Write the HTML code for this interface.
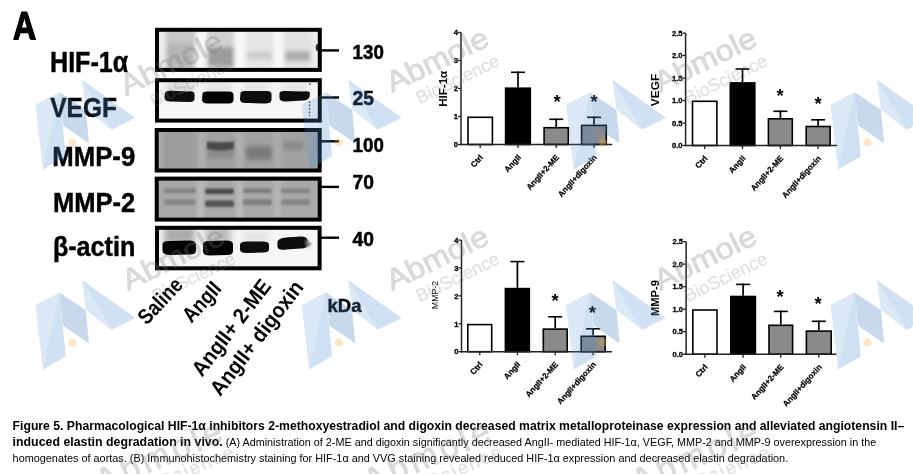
<!DOCTYPE html>
<html><head><meta charset="utf-8"><title>Figure 5</title>
<style>
html,body{margin:0;padding:0;background:#fff;width:913px;height:474px;overflow:hidden}
svg{display:block}
text{font-family:"Liberation Sans", Arial, sans-serif}
</style></head><body>
<svg width="913" height="474" viewBox="0 0 913 474">
<defs>
<filter id="b1" x="-50%" y="-50%" width="200%" height="200%"><feGaussianBlur stdDeviation="1"/></filter>
<filter id="b2" x="-50%" y="-50%" width="200%" height="200%"><feGaussianBlur stdDeviation="2"/></filter>
<filter id="b3" x="-50%" y="-50%" width="200%" height="200%"><feGaussianBlur stdDeviation="3.5"/></filter>
<filter id="b05" x="-50%" y="-50%" width="200%" height="200%"><feGaussianBlur stdDeviation="0.6"/></filter>
</defs>
<rect width="913" height="474" fill="#fff"/>

<defs>
<clipPath id="chif"><rect x="158" y="30.8" width="160.8" height="38.10000000000001"/></clipPath>
<clipPath id="cvegf"><rect x="158" y="81.2" width="160.8" height="38.39999999999999"/></clipPath>
<clipPath id="cmmp9"><rect x="157.7" y="131" width="161.0" height="38.5"/></clipPath>
<clipPath id="cmmp2"><rect x="157.7" y="179.6" width="161.0" height="39.0"/></clipPath>
<clipPath id="cact"><rect x="158" y="228.8" width="160.60000000000002" height="38.5"/></clipPath>
</defs>
<g clip-path="url(#chif)">
<rect x="155" y="27.8" width="166.8" height="44.10000000000001" fill="#ececec"/>
<g filter="url(#b2)">
<rect x="166" y="28" width="29" height="44" fill="#c6c6c6"/>
<rect x="167" y="44" width="27" height="22" fill="#b4b4b4"/>
<rect x="207" y="28" width="27" height="44" fill="#d2d2d2"/>
<rect x="208" y="47" width="26" height="19" fill="#9c9c9c"/>
<rect x="246" y="28" width="27" height="44" fill="#e6e6e6"/>
<rect x="247" y="52" width="25" height="7" fill="#cacaca"/>
<rect x="284" y="28" width="27" height="44" fill="#e2e2e2"/>
<rect x="285" y="51" width="25" height="10" fill="#acacac"/>
<rect x="196" y="28" width="10" height="44" fill="#f6f6f6"/>
<rect x="235" y="28" width="10" height="44" fill="#f8f8f8"/>
<rect x="274" y="28" width="9" height="44" fill="#f8f8f8"/>
</g>
<ellipse cx="317.5" cy="47.5" rx="1.8" ry="3.5" fill="#333" filter="url(#b05)"/>
</g>
<rect x="157.0" y="29.8" width="162.8" height="40.1" fill="none" stroke="#000" stroke-width="4"/>
<g clip-path="url(#cvegf)">
<rect x="155" y="78.2" width="166.8" height="44.39999999999999" fill="#f6f6f6"/>
<g filter="url(#b3)">
<rect x="166" y="82" width="28" height="12" fill="#d8d8d8"/>
<rect x="205" y="82" width="27" height="12" fill="#e2e2e2"/>
<rect x="243" y="82" width="27" height="12" fill="#e4e4e4"/>
<rect x="282" y="82" width="27" height="12" fill="#e4e4e4"/>
</g>
<g filter="url(#b05)">
<path d="M165 93 Q166 90.5 172 90.8 L188 91.5 Q194 90.5 194.5 94 L194.5 99 Q194 102.5 189 102 L172 101.5 Q165 102 164.5 98 Z" fill="#080808"/>
<path d="M202.5 93.5 Q203 91 209 91.5 L228 91.5 Q233.5 91 233.5 95 L233.5 100 Q233 104 228 103.5 L209 103.5 Q202.5 104 202 100 Z" fill="#050505"/>
<path d="M240.5 93 Q241 90.5 247 91 L265 91 Q271.5 90.5 271.5 94 L271.5 100 Q271 103.5 265 103.5 L247 103 Q240.5 103.5 240 99.5 Z" fill="#070707"/>
<path d="M279.5 93 Q280 90.5 286 91 L303 91.5 Q309.5 90.5 310 93 L309.5 97 Q308 100.5 303 100.5 L286 101.5 Q279.5 101.5 279.5 98 Z" fill="#0c0c0c"/>
</g>
<line x1="309.5" y1="101" x2="309.5" y2="116" stroke="#444" stroke-width="1.3" stroke-dasharray="2 1.5"/>
<circle cx="310" cy="84" r="0.9" fill="#666"/>
</g>
<rect x="157.0" y="80.2" width="162.8" height="40.4" fill="none" stroke="#000" stroke-width="4"/>
<g clip-path="url(#cmmp9)">
<rect x="154.7" y="128" width="167.0" height="44.5" fill="#a2a2a2"/>
<g filter="url(#b2)">
<rect x="155" y="128" width="10" height="44" fill="#aaaaaa"/>
<rect x="163" y="130" width="34" height="40" fill="#9c9c9c"/>
<rect x="198" y="130" width="7" height="40" fill="#b0b0b0"/>
<rect x="236" y="130" width="7" height="40" fill="#b0b0b0"/>
<rect x="274" y="130" width="7" height="40" fill="#acacac"/>
<rect x="207" y="148" width="27" height="10" fill="#8a8a8a"/>
<rect x="246" y="146" width="26" height="14" rx="3" fill="#7a7a7a"/>
<rect x="283" y="141.5" width="21" height="8" rx="3" fill="#888"/>
</g>
<g filter="url(#b1)">
<path d="M207 141.5 Q220 143 234 141.5 L234 149 Q220 152 207 149 Z" fill="#4a4a4a"/>
</g>
</g>
<rect x="156.7" y="130.0" width="163.0" height="40.5" fill="none" stroke="#000" stroke-width="4"/>
<g clip-path="url(#cmmp2)">
<rect x="154.7" y="176.6" width="167.0" height="45.0" fill="#a8a8a8"/>
<g filter="url(#b2)">
<rect x="197" y="178" width="7" height="43" fill="#bababa"/>
<rect x="236" y="178" width="7" height="43" fill="#bababa"/>
<rect x="274" y="178" width="7" height="43" fill="#b6b6b6"/>
</g>
<g filter="url(#b1)">
<rect x="164" y="188.5" width="32" height="4.5" rx="2" fill="#808080"/>
<rect x="164" y="199.5" width="32" height="5.5" rx="2" fill="#868686"/>
<rect x="205" y="188.5" width="29" height="5.5" rx="2" fill="#4c4c4c"/>
<rect x="205" y="200.5" width="29" height="6.5" rx="2" fill="#555555"/>
<rect x="243" y="188.5" width="29" height="4.5" rx="2" fill="#7c7c7c"/>
<rect x="243" y="199.5" width="29" height="5.5" rx="2" fill="#7e7e7e"/>
<rect x="281" y="188.5" width="29" height="4.5" rx="2" fill="#828282"/>
<rect x="281" y="199.5" width="29" height="5.5" rx="2" fill="#848484"/>
</g>
</g>
<rect x="156.7" y="178.6" width="163.0" height="41.0" fill="none" stroke="#000" stroke-width="4"/>
<g clip-path="url(#cact)">
<rect x="155" y="225.8" width="166.60000000000002" height="44.5" fill="#f6f6f6"/>
<g filter="url(#b3)">
<rect x="164" y="226" width="31" height="18" fill="#aaaaaa"/>
<rect x="205" y="226" width="26" height="18" fill="#bcbcbc"/>
<rect x="244" y="232" width="24" height="10" fill="#e0e0e0"/>
</g>
<g filter="url(#b05)">
<path d="M162.5 244 Q163 240.5 170 241 L189 240.5 Q195.5 240.5 196 244.5 L196 251 Q195.5 255 189 254.5 L170 255 Q163 255 162.5 251 Z" fill="#050505"/>
<path d="M203 244 Q203.5 240.5 210 241 L226 240.5 Q233 240.5 233 244.5 L233 251.5 Q232.5 255.5 226 255 L210 255.5 Q203 255.5 203 251.5 Z" fill="#050505"/>
<path d="M240 244.5 Q240.5 241.5 247 241.5 L262 241.5 Q269 241.5 269 244.5 L269 249.5 Q268.5 253 262 252.5 L247 253 Q240 253 240 249.5 Z" fill="#080808"/>
<path d="M277.5 241.5 Q279 238 286 237.5 L301 236.5 Q307 236.5 307.5 240 L308 245 Q306 249 300 248.5 L286 249.5 Q278 250.5 277.5 247 Z" fill="#080808"/>
</g>
<path d="M305 239 L312 244 L306 248 Z" fill="#777" filter="url(#b1)"/>
</g>
<rect x="157.0" y="227.8" width="162.6" height="40.5" fill="none" stroke="#000" stroke-width="4"/>
<rect x="321" y="49.2" width="18" height="2.4" fill="#000"/>
<rect x="321" y="96.3" width="18" height="2.4" fill="#000"/>
<rect x="321" y="140.1" width="18" height="2.4" fill="#000"/>
<rect x="321" y="185.7" width="18" height="2.4" fill="#000"/>
<rect x="321" y="236.5" width="18" height="2.4" fill="#000"/>
<text x="352.6" y="58.5" font-size="19.6" font-weight="bold" text-anchor="start" fill="#000" stroke="#000" stroke-width="0.5" textLength="31.2" lengthAdjust="spacingAndGlyphs">130</text>
<text x="352.6" y="104.8" font-size="19.6" font-weight="bold" text-anchor="start" fill="#000" stroke="#000" stroke-width="0.5" textLength="21.4" lengthAdjust="spacingAndGlyphs">25</text>
<text x="352.6" y="152.4" font-size="19.6" font-weight="bold" text-anchor="start" fill="#000" stroke="#000" stroke-width="0.5" textLength="31.2" lengthAdjust="spacingAndGlyphs">100</text>
<text x="352.6" y="189.3" font-size="19.6" font-weight="bold" text-anchor="start" fill="#000" stroke="#000" stroke-width="0.5" textLength="21.4" lengthAdjust="spacingAndGlyphs">70</text>
<text x="352.6" y="246.3" font-size="19.6" font-weight="bold" text-anchor="start" fill="#000" stroke="#000" stroke-width="0.5" textLength="21.4" lengthAdjust="spacingAndGlyphs">40</text>
<text x="327.5" y="312.1" font-size="18.5" font-weight="bold" text-anchor="start" fill="#000" stroke="#000" stroke-width="0.4">kDa</text>
<text x="12.4" y="39.6" font-size="38" font-weight="bold" text-anchor="start" fill="#000" textLength="24.6" lengthAdjust="spacingAndGlyphs">A</text>
<text x="13.0" y="39.3" font-size="38.5" font-weight="bold" text-anchor="start" fill="#000" textLength="22.4" lengthAdjust="spacingAndGlyphs" stroke="#000" stroke-width="0.9">A</text>
<text x="50" y="72" font-size="29" font-weight="bold" text-anchor="start" fill="#000" textLength="78.2" lengthAdjust="spacingAndGlyphs" stroke="#000" stroke-width="0.45">HIF-1α</text>
<text x="50.3" y="116.6" font-size="28" font-weight="bold" text-anchor="start" fill="#000" textLength="66.6" lengthAdjust="spacingAndGlyphs" stroke="#000" stroke-width="0.45">VEGF</text>
<text x="52.3" y="165.5" font-size="27.5" font-weight="bold" text-anchor="start" fill="#000" textLength="82.9" lengthAdjust="spacingAndGlyphs" stroke="#000" stroke-width="0.45">MMP-9</text>
<text x="52.9" y="212" font-size="28" font-weight="bold" text-anchor="start" fill="#000" textLength="82.3" lengthAdjust="spacingAndGlyphs" stroke="#000" stroke-width="0.45">MMP-2</text>
<text x="52.9" y="255.6" font-size="28" font-weight="bold" text-anchor="start" fill="#000" textLength="82.4" lengthAdjust="spacingAndGlyphs" stroke="#000" stroke-width="0.45">β-actin</text>
<text transform="translate(184,286) rotate(-47) scale(0.86,1)" font-size="21.5" font-weight="bold" text-anchor="end" >Saline</text>
<text transform="translate(222.5,289.5) rotate(-48) scale(0.86,1)" font-size="21.5" font-weight="bold" text-anchor="end" >AngII</text>
<text transform="translate(272,286.5) rotate(-52.5) scale(0.93,1)" font-size="21.5" font-weight="bold" text-anchor="end" >AngII+ 2-ME</text>
<text transform="translate(304.5,287.5) rotate(-52.5) scale(0.93,1)" font-size="21.5" font-weight="bold" text-anchor="end" >AngII+ digoxin</text>
<rect x="468.0" y="117.3" width="24.4" height="27.2" fill="#fff" stroke="#000" stroke-width="1.6"/>
<line x1="518.0" y1="87.4" x2="518.0" y2="71.5" stroke="#000" stroke-width="1.7"/>
<line x1="511.0" y1="72.3" x2="525.0" y2="72.3" stroke="#000" stroke-width="1.6"/>
<rect x="505.6" y="88.2" width="24.7" height="56.3" fill="#000" stroke="#000" stroke-width="1.6"/>
<line x1="556.2" y1="126.9" x2="556.2" y2="118.5" stroke="#000" stroke-width="1.7"/>
<line x1="549.2" y1="119.3" x2="563.2" y2="119.3" stroke="#000" stroke-width="1.6"/>
<rect x="544.1" y="127.7" width="24.2" height="16.8" fill="#8a8a8a" stroke="#000" stroke-width="1.6"/>
<line x1="594.0" y1="124.6" x2="594.0" y2="116.5" stroke="#000" stroke-width="1.7"/>
<line x1="587.0" y1="117.3" x2="601.0" y2="117.3" stroke="#000" stroke-width="1.6"/>
<rect x="581.6" y="125.4" width="24.7" height="19.1" fill="#8a8a8a" stroke="#000" stroke-width="1.6"/>
<line x1="461" y1="32.5" x2="461" y2="145.2" stroke="#222" stroke-width="1.5"/>
<line x1="460.25" y1="144.5" x2="612.2" y2="144.5" stroke="#222" stroke-width="1.5"/>
<line x1="458" y1="144.5" x2="461" y2="144.5" stroke="#222" stroke-width="1.3"/>
<text x="458" y="147.2" font-size="7.6" font-weight="bold" text-anchor="end" stroke="#000" stroke-width="0.3">0</text>
<line x1="458" y1="116.5" x2="461" y2="116.5" stroke="#222" stroke-width="1.3"/>
<text x="458" y="119.2" font-size="7.6" font-weight="bold" text-anchor="end" stroke="#000" stroke-width="0.3">1</text>
<line x1="458" y1="88.5" x2="461" y2="88.5" stroke="#222" stroke-width="1.3"/>
<text x="458" y="91.2" font-size="7.6" font-weight="bold" text-anchor="end" stroke="#000" stroke-width="0.3">2</text>
<line x1="458" y1="60.5" x2="461" y2="60.5" stroke="#222" stroke-width="1.3"/>
<text x="458" y="63.2" font-size="7.6" font-weight="bold" text-anchor="end" stroke="#000" stroke-width="0.3">3</text>
<line x1="458" y1="32.5" x2="461" y2="32.5" stroke="#222" stroke-width="1.3"/>
<text x="458" y="35.2" font-size="7.6" font-weight="bold" text-anchor="end" stroke="#000" stroke-width="0.3">4</text>
<line x1="480.2" y1="144.5" x2="480.2" y2="148.0" stroke="#222" stroke-width="1.3"/>
<text transform="translate(483.6,157.7) rotate(-48)" font-size="8.1" font-weight="bold" text-anchor="end" stroke="#000" stroke-width="0.25">Ctrl</text>
<line x1="518.0" y1="144.5" x2="518.0" y2="148.0" stroke="#222" stroke-width="1.3"/>
<text transform="translate(521.4,157.7) rotate(-48)" font-size="8.1" font-weight="bold" text-anchor="end" stroke="#000" stroke-width="0.25">AngII</text>
<line x1="556.2" y1="144.5" x2="556.2" y2="148.0" stroke="#222" stroke-width="1.3"/>
<text transform="translate(559.6,157.7) rotate(-48)" font-size="8.1" font-weight="bold" text-anchor="end" stroke="#000" stroke-width="0.25">AngII+2-ME</text>
<line x1="594.0" y1="144.5" x2="594.0" y2="148.0" stroke="#222" stroke-width="1.3"/>
<text transform="translate(597.4,157.7) rotate(-48)" font-size="8.1" font-weight="bold" text-anchor="end" stroke="#000" stroke-width="0.25">AngII+digoxin</text>
<text x="557" y="107.8" font-size="18.5" font-weight="bold" text-anchor="middle">*</text>
<text x="594" y="107.8" font-size="18.5" font-weight="bold" text-anchor="middle">*</text>
<text transform="translate(447.4,88.8) rotate(-90)" font-size="10" font-weight="bold" text-anchor="middle" textLength="36" lengthAdjust="spacingAndGlyphs">HIF-1α</text>
<rect x="692.5" y="101.3" width="24.4" height="44.2" fill="#fff" stroke="#000" stroke-width="1.6"/>
<line x1="742.5" y1="82.1" x2="742.5" y2="68.2" stroke="#000" stroke-width="1.7"/>
<line x1="735.5" y1="69.0" x2="749.5" y2="69.0" stroke="#000" stroke-width="1.6"/>
<rect x="730.3" y="82.9" width="24.5" height="62.6" fill="#000" stroke="#000" stroke-width="1.6"/>
<line x1="780.4" y1="118.0" x2="780.4" y2="110.5" stroke="#000" stroke-width="1.7"/>
<line x1="773.4" y1="111.3" x2="787.4" y2="111.3" stroke="#000" stroke-width="1.6"/>
<rect x="768.4" y="118.8" width="23.9" height="26.7" fill="#8a8a8a" stroke="#000" stroke-width="1.6"/>
<line x1="818.1" y1="125.7" x2="818.1" y2="119.0" stroke="#000" stroke-width="1.7"/>
<line x1="811.1" y1="119.8" x2="825.1" y2="119.8" stroke="#000" stroke-width="1.6"/>
<rect x="806.2" y="126.5" width="23.9" height="19.0" fill="#8a8a8a" stroke="#000" stroke-width="1.6"/>
<line x1="685.6" y1="33.0" x2="685.6" y2="146.2" stroke="#222" stroke-width="1.5"/>
<line x1="684.85" y1="145.5" x2="837" y2="145.5" stroke="#222" stroke-width="1.5"/>
<line x1="682.6" y1="145.5" x2="685.6" y2="145.5" stroke="#222" stroke-width="1.3"/>
<text x="682.6" y="148.2" font-size="7.6" font-weight="bold" text-anchor="end" stroke="#000" stroke-width="0.3">0.0</text>
<line x1="682.6" y1="123.0" x2="685.6" y2="123.0" stroke="#222" stroke-width="1.3"/>
<text x="682.6" y="125.7" font-size="7.6" font-weight="bold" text-anchor="end" stroke="#000" stroke-width="0.3">0.5</text>
<line x1="682.6" y1="100.5" x2="685.6" y2="100.5" stroke="#222" stroke-width="1.3"/>
<text x="682.6" y="103.2" font-size="7.6" font-weight="bold" text-anchor="end" stroke="#000" stroke-width="0.3">1.0</text>
<line x1="682.6" y1="78.0" x2="685.6" y2="78.0" stroke="#222" stroke-width="1.3"/>
<text x="682.6" y="80.7" font-size="7.6" font-weight="bold" text-anchor="end" stroke="#000" stroke-width="0.3">1.5</text>
<line x1="682.6" y1="55.5" x2="685.6" y2="55.5" stroke="#222" stroke-width="1.3"/>
<text x="682.6" y="58.2" font-size="7.6" font-weight="bold" text-anchor="end" stroke="#000" stroke-width="0.3">2.0</text>
<line x1="682.6" y1="33.0" x2="685.6" y2="33.0" stroke="#222" stroke-width="1.3"/>
<text x="682.6" y="35.7" font-size="7.6" font-weight="bold" text-anchor="end" stroke="#000" stroke-width="0.3">2.5</text>
<line x1="704.7" y1="145.5" x2="704.7" y2="149.0" stroke="#222" stroke-width="1.3"/>
<text transform="translate(708.1,158.7) rotate(-48)" font-size="8.1" font-weight="bold" text-anchor="end" stroke="#000" stroke-width="0.25">Ctrl</text>
<line x1="742.5" y1="145.5" x2="742.5" y2="149.0" stroke="#222" stroke-width="1.3"/>
<text transform="translate(745.9,158.7) rotate(-48)" font-size="8.1" font-weight="bold" text-anchor="end" stroke="#000" stroke-width="0.25">AngII</text>
<line x1="780.4" y1="145.5" x2="780.4" y2="149.0" stroke="#222" stroke-width="1.3"/>
<text transform="translate(783.8,158.7) rotate(-48)" font-size="8.1" font-weight="bold" text-anchor="end" stroke="#000" stroke-width="0.25">AngII+2-ME</text>
<line x1="818.1" y1="145.5" x2="818.1" y2="149.0" stroke="#222" stroke-width="1.3"/>
<text transform="translate(821.5,158.7) rotate(-48)" font-size="8.1" font-weight="bold" text-anchor="end" stroke="#000" stroke-width="0.25">AngII+digoxin</text>
<text x="780" y="102.3" font-size="18.5" font-weight="bold" text-anchor="middle">*</text>
<text x="818" y="110.3" font-size="18.5" font-weight="bold" text-anchor="middle">*</text>
<text transform="translate(659.2,90) rotate(-90)" font-size="11.5" font-weight="bold" text-anchor="middle" textLength="32.3" lengthAdjust="spacingAndGlyphs">VEGF</text>
<rect x="467.8" y="324.6" width="23.9" height="27.1" fill="#fff" stroke="#000" stroke-width="1.6"/>
<line x1="517.4" y1="287.8" x2="517.4" y2="260.8" stroke="#000" stroke-width="1.7"/>
<line x1="510.4" y1="261.6" x2="524.4" y2="261.6" stroke="#000" stroke-width="1.6"/>
<rect x="505.4" y="288.6" width="23.9" height="63.1" fill="#000" stroke="#000" stroke-width="1.6"/>
<line x1="555.2" y1="328.3" x2="555.2" y2="316.0" stroke="#000" stroke-width="1.7"/>
<line x1="548.2" y1="316.8" x2="562.2" y2="316.8" stroke="#000" stroke-width="1.6"/>
<rect x="543.3" y="329.1" width="23.9" height="22.6" fill="#8a8a8a" stroke="#000" stroke-width="1.6"/>
<line x1="593.1" y1="335.5" x2="593.1" y2="328.0" stroke="#000" stroke-width="1.7"/>
<line x1="586.1" y1="328.8" x2="600.1" y2="328.8" stroke="#000" stroke-width="1.6"/>
<rect x="581.2" y="336.3" width="23.9" height="15.4" fill="#8a8a8a" stroke="#000" stroke-width="1.6"/>
<line x1="461.5" y1="240.1" x2="461.5" y2="352.4" stroke="#222" stroke-width="1.5"/>
<line x1="460.75" y1="351.7" x2="612" y2="351.7" stroke="#222" stroke-width="1.5"/>
<line x1="458.5" y1="351.7" x2="461.5" y2="351.7" stroke="#222" stroke-width="1.3"/>
<text x="458.5" y="354.4" font-size="7.6" font-weight="bold" text-anchor="end" stroke="#000" stroke-width="0.3">0</text>
<line x1="458.5" y1="323.8" x2="461.5" y2="323.8" stroke="#222" stroke-width="1.3"/>
<text x="458.5" y="326.5" font-size="7.6" font-weight="bold" text-anchor="end" stroke="#000" stroke-width="0.3">1</text>
<line x1="458.5" y1="295.9" x2="461.5" y2="295.9" stroke="#222" stroke-width="1.3"/>
<text x="458.5" y="298.6" font-size="7.6" font-weight="bold" text-anchor="end" stroke="#000" stroke-width="0.3">2</text>
<line x1="458.5" y1="268.0" x2="461.5" y2="268.0" stroke="#222" stroke-width="1.3"/>
<text x="458.5" y="270.7" font-size="7.6" font-weight="bold" text-anchor="end" stroke="#000" stroke-width="0.3">3</text>
<line x1="458.5" y1="240.1" x2="461.5" y2="240.1" stroke="#222" stroke-width="1.3"/>
<text x="458.5" y="242.8" font-size="7.6" font-weight="bold" text-anchor="end" stroke="#000" stroke-width="0.3">4</text>
<line x1="479.8" y1="351.7" x2="479.8" y2="355.2" stroke="#222" stroke-width="1.3"/>
<text transform="translate(483.1,364.9) rotate(-48)" font-size="8.1" font-weight="bold" text-anchor="end" stroke="#000" stroke-width="0.25">Ctrl</text>
<line x1="517.4" y1="351.7" x2="517.4" y2="355.2" stroke="#222" stroke-width="1.3"/>
<text transform="translate(520.8,364.9) rotate(-48)" font-size="8.1" font-weight="bold" text-anchor="end" stroke="#000" stroke-width="0.25">AngII</text>
<line x1="555.2" y1="351.7" x2="555.2" y2="355.2" stroke="#222" stroke-width="1.3"/>
<text transform="translate(558.6,364.9) rotate(-48)" font-size="8.1" font-weight="bold" text-anchor="end" stroke="#000" stroke-width="0.25">AngII+2-ME</text>
<line x1="593.1" y1="351.7" x2="593.1" y2="355.2" stroke="#222" stroke-width="1.3"/>
<text transform="translate(596.5,364.9) rotate(-48)" font-size="8.1" font-weight="bold" text-anchor="end" stroke="#000" stroke-width="0.25">AngII+digoxin</text>
<text x="555" y="306.8" font-size="18.5" font-weight="bold" text-anchor="middle">*</text>
<text x="592.4" y="319.3" font-size="18.5" font-weight="bold" text-anchor="middle">*</text>
<text transform="translate(438,295) rotate(-90)" font-size="8.6" font-weight="normal" text-anchor="middle" textLength="28.4" lengthAdjust="spacingAndGlyphs">MMP-2</text>
<rect x="692.8" y="310.0" width="24.2" height="44.2" fill="#fff" stroke="#000" stroke-width="1.6"/>
<line x1="743.1" y1="295.7" x2="743.1" y2="283.6" stroke="#000" stroke-width="1.7"/>
<line x1="736.1" y1="284.4" x2="750.1" y2="284.4" stroke="#000" stroke-width="1.6"/>
<rect x="730.8" y="296.5" width="24.6" height="57.7" fill="#000" stroke="#000" stroke-width="1.6"/>
<line x1="780.8" y1="324.5" x2="780.8" y2="310.6" stroke="#000" stroke-width="1.7"/>
<line x1="773.8" y1="311.4" x2="787.8" y2="311.4" stroke="#000" stroke-width="1.6"/>
<rect x="769.0" y="325.3" width="23.6" height="28.9" fill="#8a8a8a" stroke="#000" stroke-width="1.6"/>
<line x1="818.8" y1="330.3" x2="818.8" y2="320.5" stroke="#000" stroke-width="1.7"/>
<line x1="811.8" y1="321.3" x2="825.8" y2="321.3" stroke="#000" stroke-width="1.6"/>
<rect x="806.4" y="331.1" width="24.8" height="23.1" fill="#8a8a8a" stroke="#000" stroke-width="1.6"/>
<line x1="686.1" y1="241.7" x2="686.1" y2="354.9" stroke="#222" stroke-width="1.5"/>
<line x1="685.35" y1="354.2" x2="836.4" y2="354.2" stroke="#222" stroke-width="1.5"/>
<line x1="683.1" y1="354.2" x2="686.1" y2="354.2" stroke="#222" stroke-width="1.3"/>
<text x="683.1" y="356.9" font-size="7.6" font-weight="bold" text-anchor="end" stroke="#000" stroke-width="0.3">0.0</text>
<line x1="683.1" y1="331.7" x2="686.1" y2="331.7" stroke="#222" stroke-width="1.3"/>
<text x="683.1" y="334.4" font-size="7.6" font-weight="bold" text-anchor="end" stroke="#000" stroke-width="0.3">0.5</text>
<line x1="683.1" y1="309.2" x2="686.1" y2="309.2" stroke="#222" stroke-width="1.3"/>
<text x="683.1" y="311.9" font-size="7.6" font-weight="bold" text-anchor="end" stroke="#000" stroke-width="0.3">1.0</text>
<line x1="683.1" y1="286.7" x2="686.1" y2="286.7" stroke="#222" stroke-width="1.3"/>
<text x="683.1" y="289.4" font-size="7.6" font-weight="bold" text-anchor="end" stroke="#000" stroke-width="0.3">1.5</text>
<line x1="683.1" y1="264.2" x2="686.1" y2="264.2" stroke="#222" stroke-width="1.3"/>
<text x="683.1" y="266.9" font-size="7.6" font-weight="bold" text-anchor="end" stroke="#000" stroke-width="0.3">2.0</text>
<line x1="683.1" y1="241.7" x2="686.1" y2="241.7" stroke="#222" stroke-width="1.3"/>
<text x="683.1" y="244.4" font-size="7.6" font-weight="bold" text-anchor="end" stroke="#000" stroke-width="0.3">2.5</text>
<line x1="704.9" y1="354.2" x2="704.9" y2="357.7" stroke="#222" stroke-width="1.3"/>
<text transform="translate(708.3,367.4) rotate(-48)" font-size="8.1" font-weight="bold" text-anchor="end" stroke="#000" stroke-width="0.25">Ctrl</text>
<line x1="743.1" y1="354.2" x2="743.1" y2="357.7" stroke="#222" stroke-width="1.3"/>
<text transform="translate(746.5,367.4) rotate(-48)" font-size="8.1" font-weight="bold" text-anchor="end" stroke="#000" stroke-width="0.25">AngII</text>
<line x1="780.8" y1="354.2" x2="780.8" y2="357.7" stroke="#222" stroke-width="1.3"/>
<text transform="translate(784.2,367.4) rotate(-48)" font-size="8.1" font-weight="bold" text-anchor="end" stroke="#000" stroke-width="0.25">AngII+2-ME</text>
<line x1="818.8" y1="354.2" x2="818.8" y2="357.7" stroke="#222" stroke-width="1.3"/>
<text transform="translate(822.2,367.4) rotate(-48)" font-size="8.1" font-weight="bold" text-anchor="end" stroke="#000" stroke-width="0.25">AngII+digoxin</text>
<text x="780" y="303.3" font-size="18.5" font-weight="bold" text-anchor="middle">*</text>
<text x="818" y="309.8" font-size="18.5" font-weight="bold" text-anchor="middle">*</text>
<text transform="translate(658.9,298) rotate(-90)" font-size="11" font-weight="bold" text-anchor="middle" textLength="36" lengthAdjust="spacingAndGlyphs">MMP-9</text>
<text x="12.6" y="429.8" font-size="12.6" font-weight="bold" textLength="891.6" lengthAdjust="spacingAndGlyphs">Figure 5. Pharmacological HIF-1α inhibitors 2-methoxyestradiol and digoxin decreased matrix metalloproteinase expression and alleviated angiotensin II–</text>
<text x="12.6" y="446.2" font-size="11" textLength="863.6" lengthAdjust="spacingAndGlyphs"><tspan font-weight="bold" font-size="12.6">induced elastin degradation in vivo.</tspan> (A) Administration of 2-ME and digoxin significantly decreased AngII- mediated HIF-1α, VEGF, MMP-2 and MMP-9 overexpression in the</text>
<text x="12.6" y="461.8" font-size="11" textLength="775.6" lengthAdjust="spacingAndGlyphs">homogenates of aortas. (B) Immunohistochemistry staining for HIF-1α and VVG staining revealed reduced HIF-1α expression and decreased elastin degradation.</text>
<polygon points="35.4,104.8 59.4,92.3 42.9,169.5" fill="#5a9ad8" opacity="0.22"/><polygon points="59.4,92.3 65.8,156.2 42.9,169.5" fill="#4f8fd0" opacity="0.27"/><polygon points="59.4,92.3 85.8,109.8 89.0,143.3 63.2,125.6" fill="#4a80c0" opacity="0.30"/><polygon points="81.9,79.8 85.8,109.8 111.4,129.7" fill="#5a9ad8" opacity="0.22"/><polygon points="81.9,79.8 135.4,117.8 111.4,129.7" fill="#4f8fd0" opacity="0.27"/><circle cx="72.4" cy="142.3" r="3.9" fill="#f0b040" opacity="0.3" filter="url(#b05)"/>
<polygon points="301.7,104.8 325.7,92.3 309.2,169.5" fill="#5a9ad8" opacity="0.22"/><polygon points="325.7,92.3 332.1,156.2 309.2,169.5" fill="#4f8fd0" opacity="0.27"/><polygon points="325.7,92.3 352.1,109.8 355.3,143.3 329.5,125.6" fill="#4a80c0" opacity="0.30"/><polygon points="348.2,79.8 352.1,109.8 377.7,129.7" fill="#5a9ad8" opacity="0.22"/><polygon points="348.2,79.8 401.7,117.8 377.7,129.7" fill="#4f8fd0" opacity="0.27"/><circle cx="338.7" cy="142.3" r="3.9" fill="#f0b040" opacity="0.3" filter="url(#b05)"/>
<polygon points="566.0,104.8 590.0,92.3 573.5,169.5" fill="#5a9ad8" opacity="0.22"/><polygon points="590.0,92.3 596.4,156.2 573.5,169.5" fill="#4f8fd0" opacity="0.27"/><polygon points="590.0,92.3 616.4,109.8 619.6,143.3 593.8,125.6" fill="#4a80c0" opacity="0.30"/><polygon points="612.5,79.8 616.4,109.8 642.0,129.7" fill="#5a9ad8" opacity="0.22"/><polygon points="612.5,79.8 666.0,117.8 642.0,129.7" fill="#4f8fd0" opacity="0.27"/><circle cx="603.0" cy="142.3" r="3.9" fill="#f0b040" opacity="0.3" filter="url(#b05)"/>
<polygon points="830.5,104.8 854.5,92.3 838.0,169.5" fill="#5a9ad8" opacity="0.22"/><polygon points="854.5,92.3 860.9,156.2 838.0,169.5" fill="#4f8fd0" opacity="0.27"/><polygon points="854.5,92.3 880.9,109.8 884.1,143.3 858.3,125.6" fill="#4a80c0" opacity="0.30"/><polygon points="877.0,79.8 880.9,109.8 906.5,129.7" fill="#5a9ad8" opacity="0.22"/><polygon points="877.0,79.8 930.5,117.8 906.5,129.7" fill="#4f8fd0" opacity="0.27"/><circle cx="867.5" cy="142.3" r="3.9" fill="#f0b040" opacity="0.3" filter="url(#b05)"/>
<polygon points="35.4,304.9 59.4,292.4 42.9,369.6" fill="#5a9ad8" opacity="0.22"/><polygon points="59.4,292.4 65.8,356.3 42.9,369.6" fill="#4f8fd0" opacity="0.27"/><polygon points="59.4,292.4 85.8,309.9 89.0,343.4 63.2,325.7" fill="#4a80c0" opacity="0.30"/><polygon points="81.9,279.9 85.8,309.9 111.4,329.8" fill="#5a9ad8" opacity="0.22"/><polygon points="81.9,279.9 135.4,317.9 111.4,329.8" fill="#4f8fd0" opacity="0.27"/><circle cx="72.4" cy="342.4" r="3.9" fill="#f0b040" opacity="0.3" filter="url(#b05)"/>
<polygon points="301.7,304.9 325.7,292.4 309.2,369.6" fill="#5a9ad8" opacity="0.22"/><polygon points="325.7,292.4 332.1,356.3 309.2,369.6" fill="#4f8fd0" opacity="0.27"/><polygon points="325.7,292.4 352.1,309.9 355.3,343.4 329.5,325.7" fill="#4a80c0" opacity="0.30"/><polygon points="348.2,279.9 352.1,309.9 377.7,329.8" fill="#5a9ad8" opacity="0.22"/><polygon points="348.2,279.9 401.7,317.9 377.7,329.8" fill="#4f8fd0" opacity="0.27"/><circle cx="338.7" cy="342.4" r="3.9" fill="#f0b040" opacity="0.3" filter="url(#b05)"/>
<polygon points="566.0,304.9 590.0,292.4 573.5,369.6" fill="#5a9ad8" opacity="0.22"/><polygon points="590.0,292.4 596.4,356.3 573.5,369.6" fill="#4f8fd0" opacity="0.27"/><polygon points="590.0,292.4 616.4,309.9 619.6,343.4 593.8,325.7" fill="#4a80c0" opacity="0.30"/><polygon points="612.5,279.9 616.4,309.9 642.0,329.8" fill="#5a9ad8" opacity="0.22"/><polygon points="612.5,279.9 666.0,317.9 642.0,329.8" fill="#4f8fd0" opacity="0.27"/><circle cx="603.0" cy="342.4" r="3.9" fill="#f0b040" opacity="0.3" filter="url(#b05)"/>
<polygon points="830.5,304.9 854.5,292.4 838.0,369.6" fill="#5a9ad8" opacity="0.22"/><polygon points="854.5,292.4 860.9,356.3 838.0,369.6" fill="#4f8fd0" opacity="0.27"/><polygon points="854.5,292.4 880.9,309.9 884.1,343.4 858.3,325.7" fill="#4a80c0" opacity="0.30"/><polygon points="877.0,279.9 880.9,309.9 906.5,329.8" fill="#5a9ad8" opacity="0.22"/><polygon points="877.0,279.9 930.5,317.9 906.5,329.8" fill="#4f8fd0" opacity="0.27"/><circle cx="867.5" cy="342.4" r="3.9" fill="#f0b040" opacity="0.3" filter="url(#b05)"/>
<g transform="translate(101.6,493.4) rotate(-23.5)" fill="#7a7a7a" stroke="#7a7a7a" stroke-width="0.9" opacity="0.28"><text x="0" y="0" font-size="34" letter-spacing="3.8">Abmole</text><text x="25" y="19.6" font-size="18.8" letter-spacing="2" stroke-width="0.35" opacity="0.8">BioScience</text></g>
<g transform="translate(369.6,493.4) rotate(-23.5)" fill="#7a7a7a" stroke="#7a7a7a" stroke-width="0.9" opacity="0.28"><text x="0" y="0" font-size="34" letter-spacing="3.8">Abmole</text><text x="25" y="19.6" font-size="18.8" letter-spacing="2" stroke-width="0.35" opacity="0.8">BioScience</text></g>
<g transform="translate(637.6,493.4) rotate(-23.5)" fill="#7a7a7a" stroke="#7a7a7a" stroke-width="0.9" opacity="0.28"><text x="0" y="0" font-size="34" letter-spacing="3.8">Abmole</text><text x="25" y="19.6" font-size="18.8" letter-spacing="2" stroke-width="0.35" opacity="0.8">BioScience</text></g>
<g transform="translate(126,96) rotate(-26)" fill="#7a7a7a" stroke="#7a7a7a" stroke-width="0.9" opacity="0.28"><text x="0" y="0" font-size="29.5" textLength="110" lengthAdjust="spacingAndGlyphs">Abmole</text><text x="20" y="22.5" font-size="18" stroke-width="0.35" opacity="0.8">BioScience</text></g>
<g transform="translate(392,93) rotate(-26)" fill="#7a7a7a" stroke="#7a7a7a" stroke-width="0.9" opacity="0.28"><text x="0" y="0" font-size="29.5" textLength="110" lengthAdjust="spacingAndGlyphs">Abmole</text><text x="20" y="22.5" font-size="18" stroke-width="0.35" opacity="0.8">BioScience</text></g>
<g transform="translate(660,93) rotate(-26)" fill="#7a7a7a" stroke="#7a7a7a" stroke-width="0.9" opacity="0.28"><text x="0" y="0" font-size="29.5" textLength="110" lengthAdjust="spacingAndGlyphs">Abmole</text><text x="20" y="22.5" font-size="18" stroke-width="0.35" opacity="0.8">BioScience</text></g>
<g transform="translate(128,291) rotate(-26)" fill="#7a7a7a" stroke="#7a7a7a" stroke-width="0.9" opacity="0.28"><text x="0" y="0" font-size="29.5" textLength="110" lengthAdjust="spacingAndGlyphs">Abmole</text><text x="20" y="22.5" font-size="18" stroke-width="0.35" opacity="0.8">BioScience</text></g>
<g transform="translate(392,291) rotate(-26)" fill="#7a7a7a" stroke="#7a7a7a" stroke-width="0.9" opacity="0.28"><text x="0" y="0" font-size="29.5" textLength="110" lengthAdjust="spacingAndGlyphs">Abmole</text><text x="20" y="22.5" font-size="18" stroke-width="0.35" opacity="0.8">BioScience</text></g>
<g transform="translate(660,291) rotate(-26)" fill="#7a7a7a" stroke="#7a7a7a" stroke-width="0.9" opacity="0.28"><text x="0" y="0" font-size="29.5" textLength="110" lengthAdjust="spacingAndGlyphs">Abmole</text><text x="20" y="22.5" font-size="18" stroke-width="0.35" opacity="0.8">BioScience</text></g>
</svg></body></html>
